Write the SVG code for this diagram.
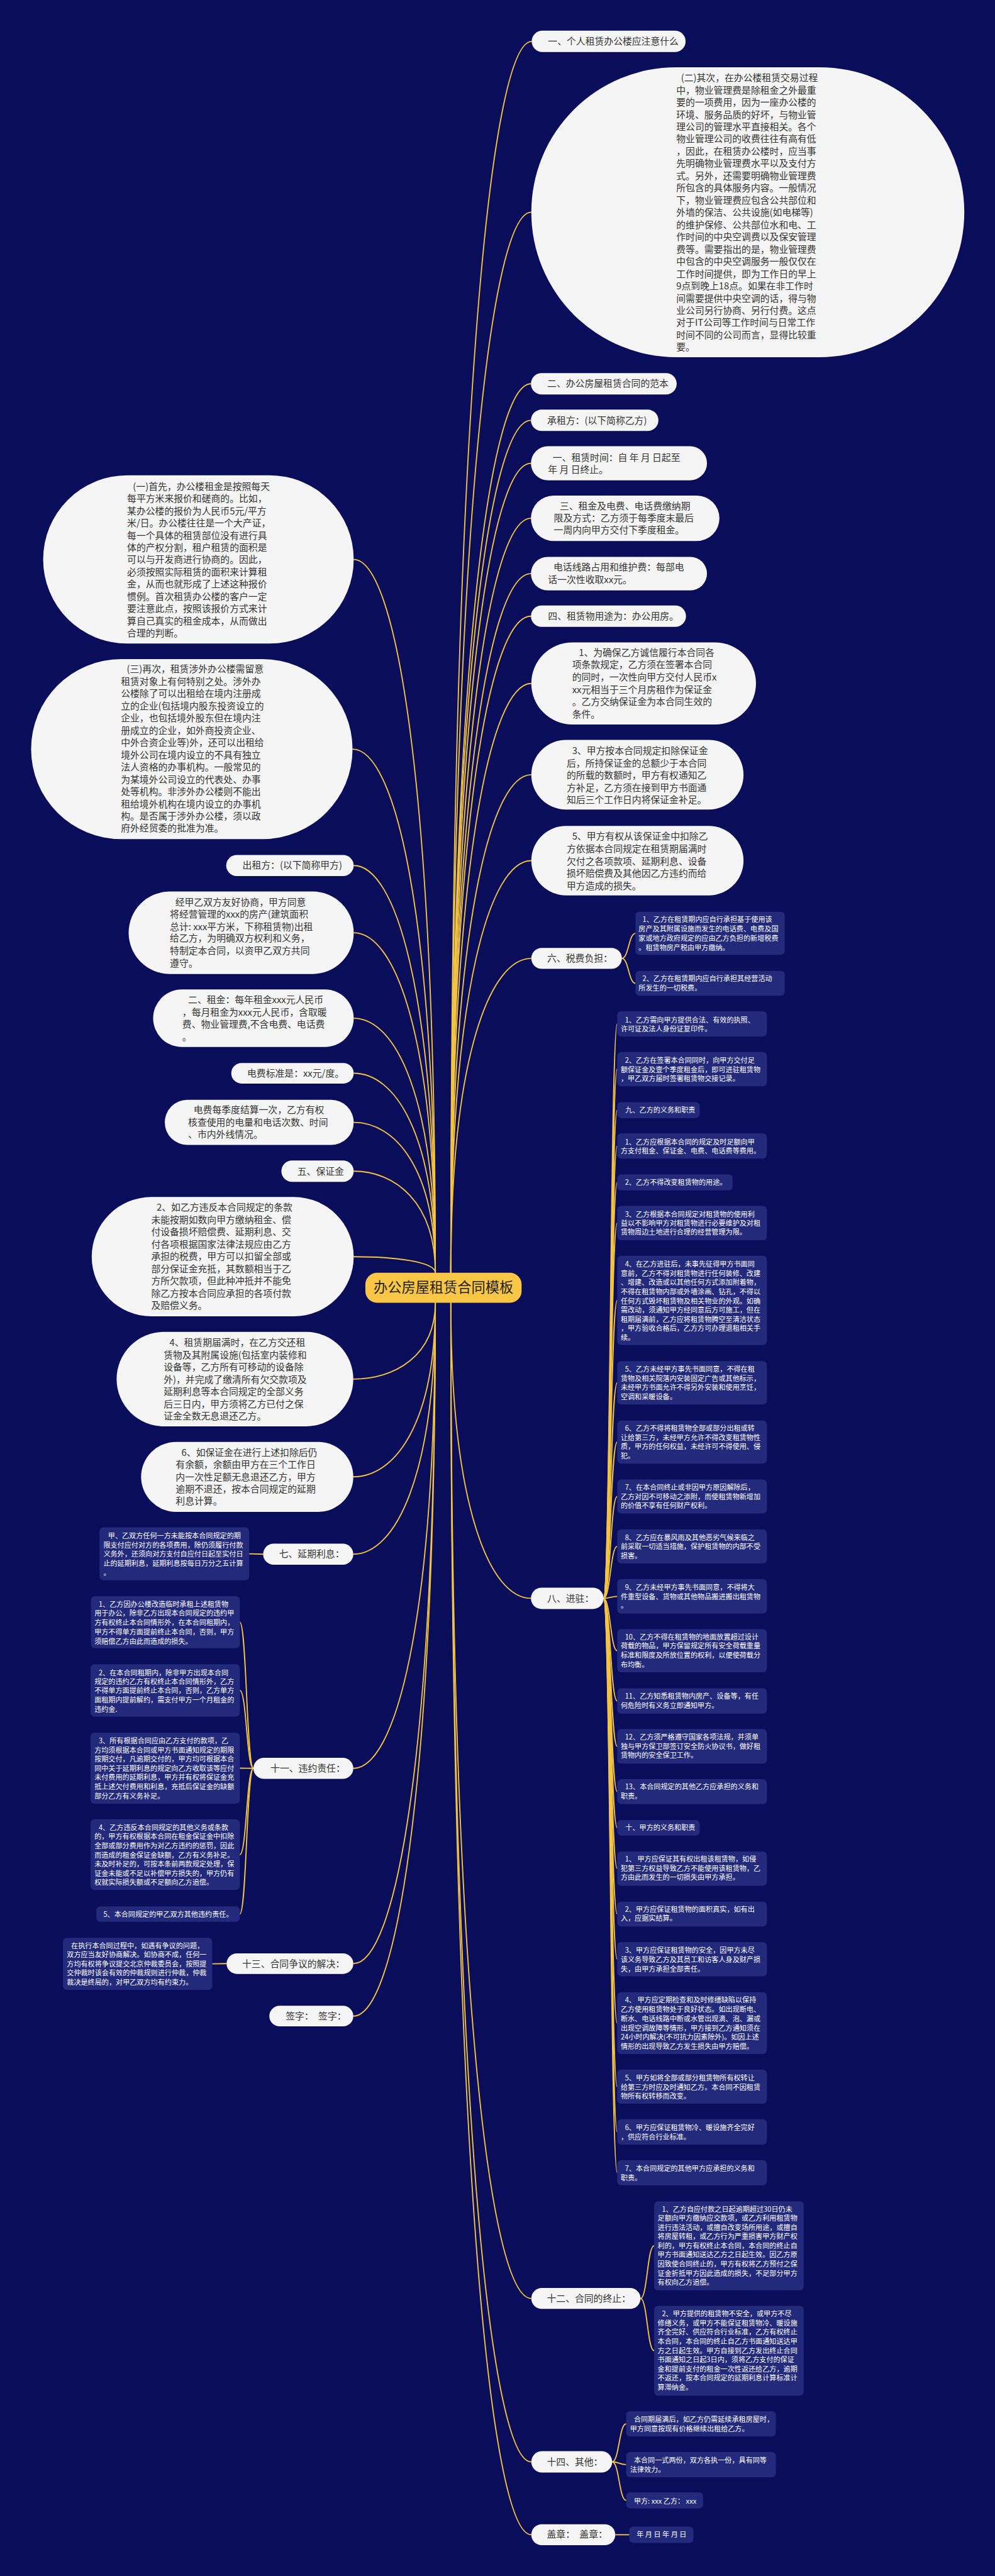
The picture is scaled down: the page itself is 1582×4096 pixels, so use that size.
<svg xmlns="http://www.w3.org/2000/svg" width="1582" height="4096" viewBox="0 0 1582 4096">
<style>
.pill{fill:#f5f5f5}
.box{fill:#232a7c}
.cen{fill:#f9c646}
.t{font-family:"Noto Sans CJK SC","Noto Sans",sans-serif;font-size:24px;fill:#333333}
.w{font-family:"Noto Sans CJK SC","Noto Sans",sans-serif;font-size:18px;fill:#ffffff}
.ct{font-family:"Noto Sans CJK SC","Noto Sans",sans-serif;font-size:36px;fill:#1f1f1f}
.c{fill:none;stroke:#f4c443;stroke-width:3}
</style>
<rect x="0" y="0" width="1582" height="4096" fill="#0a0e5a"/>
<g transform="scale(0.61797)">
<g id="connectors">
<path class="c" d="M1368 106.5 C1264 106.5 1160 1057 1160 3275"/>
<path class="c" d="M1367 546 C1263.5 546 1160 1365 1160 3275"/>
<path class="c" d="M1366 987.5 C1263 987.5 1160 1674 1160 3275"/>
<path class="c" d="M1366 1081.5 C1263 1081.5 1160 1740 1160 3275"/>
<path class="c" d="M1366 1192 C1263 1192 1160 1817 1160 3275"/>
<path class="c" d="M1366 1333.5 C1263 1333.5 1160 1916 1160 3275"/>
<path class="c" d="M1366 1476 C1263 1476 1160 2016 1160 3275"/>
<path class="c" d="M1366 1585.5 C1263 1585.5 1160 2092 1160 3275"/>
<path class="c" d="M1367 1758.5 C1263.5 1758.5 1160 2213.5 1160 3275"/>
<path class="c" d="M1367 1993.5 C1263.5 1993.5 1160 2378 1160 3275"/>
<path class="c" d="M1367 2214.5 C1263.5 2214.5 1160 2532.5 1160 3275"/>
<path class="c" d="M1367 2466 C1263.5 2466 1160 2709 1160 3275"/>
<path class="c" d="M910 1439.5 C1015 1439.5 1120 1990 1120 3275"/>
<path class="c" d="M907 1927.5 C1013.5 1927.5 1120 2332 1120 3275"/>
<path class="c" d="M910 2227 C1015 2227 1120 2541 1120 3275"/>
<path class="c" d="M910 2400 C1015 2400 1120 2662.5 1120 3275"/>
<path class="c" d="M910 2620 C1015 2620 1120 2816.5 1120 3275"/>
<path class="c" d="M910 2761.5 C1015 2761.5 1120 2915.5 1120 3275"/>
<path class="c" d="M910 2888 C1015 2888 1120 3004 1120 3275"/>
<path class="c" d="M910 3013.5 C1015 3013.5 1120 3092 1120 3275"/>
<path class="c" d="M910 3233.5 C1015 3233.5 1120 3246 1120 3275"/>
<path class="c" d="M909 3548.5 C1014.5 3548.5 1120 3489.5 1120 3352"/>
<path class="c" d="M909 3800 C1014.5 3800 1120 3665.6 1120 3352"/>
<path class="c" d="M909 3999 C1014.5 3999 1120 3805 1120 3352"/>
<path class="c" d="M909 4550 C1014.5 4550 1120 4190.6 1120 3352"/>
<path class="c" d="M909 5052.5 C1014.5 5052.5 1120 4542.5 1120 3352"/>
<path class="c" d="M909 5187.5 C1014.5 5187.5 1120 4636.8 1120 3352"/>
<path class="c" d="M1366 4112.5 C1263 4112.5 1160 3884.5 1160 3352"/>
<path class="c" d="M1367 5914 C1263.5 5914 1160 5145.4 1160 3352"/>
<path class="c" d="M1367 6334.5 C1263.5 6334.5 1160 5439.8 1160 3352"/>
<path class="c" d="M1367 6522 C1263.5 6522 1160 5571 1160 3352"/>
<path class="c" d="M1600 2466 C1617.5 2466 1617.5 2401.5 1635 2401.5"/>
<path class="c" d="M1600 2466 C1617.5 2466 1617.5 2530 1635 2530"/>
<path class="c" d="M1553 4112.5 C1570.5 4112.5 1570.5 2634.5 1588 2634.5"/>
<path class="c" d="M1553 4112.5 C1570.5 4112.5 1570.5 2751 1588 2751"/>
<path class="c" d="M1553 4112.5 C1570.5 4112.5 1570.5 2856.5 1588 2856.5"/>
<path class="c" d="M1553 4112.5 C1570.5 4112.5 1570.5 2948.5 1588 2948.5"/>
<path class="c" d="M1553 4112.5 C1570.5 4112.5 1570.5 3042.5 1588 3042.5"/>
<path class="c" d="M1553 4112.5 C1570.5 4112.5 1570.5 3147 1588 3147"/>
<path class="c" d="M1553 4112.5 C1570.5 4112.5 1570.5 3346 1588 3346"/>
<path class="c" d="M1553 4112.5 C1570.5 4112.5 1570.5 3558 1588 3558"/>
<path class="c" d="M1553 4112.5 C1570.5 4112.5 1570.5 3710.5 1588 3710.5"/>
<path class="c" d="M1553 4112.5 C1570.5 4112.5 1570.5 3850.5 1588 3850.5"/>
<path class="c" d="M1553 4112.5 C1570.5 4112.5 1570.5 3979 1588 3979"/>
<path class="c" d="M1553 4112.5 C1570.5 4112.5 1570.5 4107.5 1588 4107.5"/>
<path class="c" d="M1553 4112.5 C1570.5 4112.5 1570.5 4247.5 1588 4247.5"/>
<path class="c" d="M1553 4112.5 C1570.5 4112.5 1570.5 4376.5 1588 4376.5"/>
<path class="c" d="M1553 4112.5 C1570.5 4112.5 1570.5 4493.5 1588 4493.5"/>
<path class="c" d="M1553 4112.5 C1570.5 4112.5 1570.5 4610 1588 4610"/>
<path class="c" d="M1553 4112.5 C1570.5 4112.5 1570.5 4703 1588 4703"/>
<path class="c" d="M1553 4112.5 C1570.5 4112.5 1570.5 4808 1588 4808"/>
<path class="c" d="M1553 4112.5 C1570.5 4112.5 1570.5 4925 1588 4925"/>
<path class="c" d="M1553 4112.5 C1570.5 4112.5 1570.5 5041 1588 5041"/>
<path class="c" d="M1553 4112.5 C1570.5 4112.5 1570.5 5205.5 1588 5205.5"/>
<path class="c" d="M1553 4112.5 C1570.5 4112.5 1570.5 5369 1588 5369"/>
<path class="c" d="M1553 4112.5 C1570.5 4112.5 1570.5 5485.5 1588 5485.5"/>
<path class="c" d="M1553 4112.5 C1570.5 4112.5 1570.5 5590.5 1588 5590.5"/>
<path class="c" d="M1648 5914 C1665.5 5914 1665.5 5778.5 1683 5778.5"/>
<path class="c" d="M1648 5914 C1665.5 5914 1665.5 6048.5 1683 6048.5"/>
<path class="c" d="M1575 6334.5 C1593 6334.5 1593 6236.5 1611 6236.5"/>
<path class="c" d="M1575 6334.5 C1593 6334.5 1593 6341.5 1611 6341.5"/>
<path class="c" d="M1575 6334.5 C1593 6334.5 1593 6433.5 1611 6433.5"/>
<path class="c" d="M1583 6522 L1619 6522"/>
<path class="c" d="M677 3999 L641 3998"/>
<path class="c" d="M652 4550 C634.5 4550 634.5 4174 617 4174"/>
<path class="c" d="M652 4550 C634.5 4550 634.5 4349.5 617 4349.5"/>
<path class="c" d="M652 4550 C634.5 4550 634.5 4549.5 617 4549.5"/>
<path class="c" d="M652 4550 C634.5 4550 634.5 4772 617 4772"/>
<path class="c" d="M652 4550 C634.5 4550 634.5 4925 617 4925"/>
<path class="c" d="M583 5052.5 L546 5053"/>
</g>

<g id="center">
<rect class="cen" x="940" y="3275" width="402" height="77" rx="30"/>
<text class="ct" x="1141" y="3326" text-anchor="middle">办公房屋租赁合同模板</text>
</g>

<g id="r1"><rect class="pill" x="1368" y="79" width="396" height="55" rx="27.5"/>
<text class="t" x="1410" y="115">一、个人租赁办公楼应注意什么</text></g>

<g id="r2"><rect class="pill" x="1367" y="173" width="1114" height="746" rx="373"/>
<text class="t"><tspan x="1752" y="209">(二)其次，在办公楼租赁交易过程</tspan><tspan x="1740" y="240.5">中，物业管理费是除租金之外最重</tspan><tspan x="1740" y="272">要的一项费用，因为一座办公楼的</tspan><tspan x="1740" y="303.5">环境、服务品质的好坏，与物业管</tspan><tspan x="1740" y="335">理公司的管理水平直接相关。各个</tspan><tspan x="1740" y="366.5">物业管理公司的收费往往有高有低</tspan><tspan x="1740" y="398">，因此，在租赁办公楼时，应当事</tspan><tspan x="1740" y="429.5">先明确物业管理费水平以及支付方</tspan><tspan x="1740" y="461">式。另外，还需要明确物业管理费</tspan><tspan x="1740" y="492.5">所包含的具体服务内容。一般情况</tspan><tspan x="1740" y="524">下，物业管理费应包含公共部位和</tspan><tspan x="1740" y="555.5">外墙的保洁、公共设施(如电梯等)</tspan><tspan x="1740" y="587">的维护保修、公共部位水和电、工</tspan><tspan x="1740" y="618.5">作时间的中央空调费以及保安管理</tspan><tspan x="1740" y="650">费等。需要指出的是，物业管理费</tspan><tspan x="1740" y="681.5">中包含的中央空调服务一般仅仅在</tspan><tspan x="1740" y="713">工作时间提供，即为工作日的早上</tspan><tspan x="1740" y="744.5">9点到晚上18点。如果在非工作时</tspan><tspan x="1740" y="776">间需要提供中央空调的话，得与物</tspan><tspan x="1740" y="807.5">业公司另行协商、另行付费。这点</tspan><tspan x="1740" y="839">对于IT公司等工作时间与日常工作</tspan><tspan x="1740" y="870.5">时间不同的公司而言，显得比较重</tspan><tspan x="1740" y="902">要。</tspan></text></g>

<g id="r3"><rect class="pill" x="1366" y="960" width="375" height="55" rx="27.5"/>
<text class="t" x="1408" y="996">二、办公房屋租赁合同的范本</text></g>

<g id="r4"><rect class="pill" x="1366" y="1054" width="328" height="55" rx="27.5"/>
<text class="t" x="1408" y="1090">承租方：(以下简称乙方)</text></g>

<g id="r5"><rect class="pill" x="1366" y="1148" width="453" height="88" rx="44"/>
<text class="t"><tspan x="1422" y="1186">一、租赁时间：自 年 月 日起至</tspan><tspan x="1410" y="1217">年 月 日终止。</tspan></text></g>

<g id="r6"><rect class="pill" x="1366" y="1275" width="485" height="117" rx="58.5"/>
<text class="t"><tspan x="1440" y="1311">三、租金及电费、电话费缴纳期</tspan><tspan x="1425" y="1342">限及方式：乙方须于每季度末最后</tspan><tspan x="1425" y="1373">一周内向甲方交付下季度租金。</tspan></text></g>

<g id="r7"><rect class="pill" x="1366" y="1433" width="453" height="86" rx="43"/>
<text class="t"><tspan x="1424" y="1467">电话线路占用和维护费：每部电</tspan><tspan x="1410" y="1500">话一次性收取xx元。</tspan></text></g>

<g id="r8"><rect class="pill" x="1366" y="1558" width="399" height="55" rx="27.5"/>
<text class="t" x="1410" y="1594">四、租赁物用途为：办公用房。</text></g>

<g id="r9"><rect class="pill" x="1367" y="1653" width="578" height="211" rx="105.5"/>
<text class="t"><tspan x="1489" y="1687">1、为确保乙方诚信履行本合同各</tspan><tspan x="1472" y="1719">项条款规定，乙方须在签署本合同</tspan><tspan x="1472" y="1751">的同时，一次性向甲方交付人民币x</tspan><tspan x="1472" y="1783">xx元相当于三个月房租作为保证金</tspan><tspan x="1472" y="1814">。乙方交纳保证金为本合同生效的</tspan><tspan x="1472" y="1846">条件。</tspan></text></g>

<g id="r10"><rect class="pill" x="1367" y="1904" width="546" height="179" rx="89.5"/>
<text class="t"><tspan x="1472" y="1940">3、甲方按本合同规定扣除保证金</tspan><tspan x="1458" y="1972">后，所持保证金的总额少于本合同</tspan><tspan x="1458" y="2004">的所载的数额时，甲方有权通知乙</tspan><tspan x="1458" y="2035">方补足，乙方须在接到甲方书面通</tspan><tspan x="1458" y="2067">知后三个工作日内将保证金补足。</tspan></text></g>

<g id="r11"><rect class="pill" x="1367" y="2125" width="546" height="179" rx="89.5"/>
<text class="t"><tspan x="1472" y="2161">5、甲方有权从该保证金中扣除乙</tspan><tspan x="1458" y="2193">方依据本合同规定在租赁期届满时</tspan><tspan x="1458" y="2225">欠付之各项款项、延期利息、设备</tspan><tspan x="1458" y="2256">损坏赔偿费及其他因乙方违约而给</tspan><tspan x="1458" y="2288">甲方造成的损失。</tspan></text></g>

<g id="r12"><rect class="pill" x="1367" y="2439" width="233" height="54" rx="27"/>
<text class="t" x="1408" y="2474">六、税费负担：</text></g>
<g id="r12a"><rect class="box" x="1635" y="2346" width="384" height="111" rx="10"/>
<text class="w"><tspan x="1653" y="2372.5">1、乙方在租赁期内应自行承担基于使用该</tspan><tspan x="1643" y="2396.5">房产及其附属设施而发生的电话费、电费及国</tspan><tspan x="1643" y="2420.5">家或地方政府规定的应由乙方负担的新增税费</tspan><tspan x="1643" y="2444.5">。租赁物房产税由甲方缴纳。</tspan></text></g>
<g id="r12b"><rect class="box" x="1635" y="2498" width="384" height="64" rx="10"/>
<text class="w"><tspan x="1653" y="2524.5">2、乙方在租赁期内应自行承担其经营活动</tspan><tspan x="1643" y="2548.5">所发生的一切税费。</tspan></text></g>

<g id="r13"><rect class="pill" x="1366" y="4085" width="187" height="55" rx="27.5"/>
<text class="t" x="1408" y="4121">八、进驻：</text></g>

<g id="r13-1"><rect class="box" x="1588" y="2602" width="385" height="65" rx="10"/>
<text class="w"><tspan x="1608" y="2630.5">1、乙方需向甲方提供合法、有效的执照、</tspan><tspan x="1597" y="2653.5">许可证及法人身份证复印件。</tspan></text></g>
<g id="r13-2"><rect class="box" x="1588" y="2707" width="385" height="88" rx="10"/>
<text class="w"><tspan x="1608" y="2735.5">2、乙方在签署本合同同时，向甲方交付足</tspan><tspan x="1597" y="2758.5">额保证金及壹个季度租金后，即可进驻租赁物</tspan><tspan x="1597" y="2781.5">，甲乙双方届时签署租赁物交接记录。</tspan></text></g>
<g id="r13-3"><rect class="box" x="1588" y="2836" width="212" height="41" rx="10"/>
<text class="w" x="1609" y="2862.5">九、乙方的义务和职责</text></g>
<g id="r13-4"><rect class="box" x="1588" y="2916" width="385" height="65" rx="10"/>
<text class="w"><tspan x="1608" y="2945.5">1、乙方应根据本合同的规定及时足额向甲</tspan><tspan x="1597" y="2967.5">方支付租金、保证金、电费、电话费等费用。</tspan></text></g>
<g id="r13-5"><rect class="box" x="1588" y="3022" width="297" height="41" rx="10"/>
<text class="w" x="1608" y="3048.5">2、乙方不得改变租赁物的用途。</text></g>
<g id="r13-6"><rect class="box" x="1588" y="3103" width="385" height="88" rx="10"/>
<text class="w"><tspan x="1608" y="3130.5">3、乙方根据本合同规定对租赁物的使用利</tspan><tspan x="1597" y="3153.5">益以不影响甲方对租赁物进行必要维护及对租</tspan><tspan x="1597" y="3176.5">赁物周边土地进行合理的经营管理为限。</tspan></text></g>
<g id="r13-7"><rect class="box" x="1588" y="3231" width="385" height="230" rx="10"/>
<text class="w"><tspan x="1608" y="3259.5">4、在乙方进驻后，未事先征得甲方书面同</tspan><tspan x="1597" y="3283">意前，乙方不得对租赁物进行任何装修、改建</tspan><tspan x="1597" y="3306.5">、增建、改造或以其他任何方式添加附着物，</tspan><tspan x="1597" y="3330">不得在租赁物内部或外墙涂画、钻孔，不得以</tspan><tspan x="1597" y="3354">任何方式毁坏租赁物及相关物业的外观。如确</tspan><tspan x="1597" y="3377.5">需改动，须通知甲方经同意后方可施工，但在</tspan><tspan x="1597" y="3401">租期届满前，乙方应将租赁物腾空至清洁状态</tspan><tspan x="1597" y="3424.5">，甲方验收合格后，乙方方可办理退租相关手</tspan><tspan x="1597" y="3448.5">续。</tspan></text></g>
<g id="r13-8"><rect class="box" x="1588" y="3502" width="385" height="112" rx="10"/>
<text class="w"><tspan x="1608" y="3529.5">5、乙方未经甲方事先书面同意，不得在租</tspan><tspan x="1597" y="3553">赁物及相关院落内安装固定广告或其他标示，</tspan><tspan x="1597" y="3576.5">未经甲方书面允许不得另外安装和使用烹饪，</tspan><tspan x="1597" y="3600">空调和采暖设备。</tspan></text></g>
<g id="r13-9"><rect class="box" x="1588" y="3655" width="385" height="111" rx="10"/>
<text class="w"><tspan x="1608" y="3681.5">6、乙方不得将租赁物全部或部分出租或转</tspan><tspan x="1597" y="3705">让给第三方，未经甲方允许不得改变租赁物性</tspan><tspan x="1597" y="3728.5">质，甲方的任何权益，未经许可不得使用、侵</tspan><tspan x="1597" y="3752">犯。</tspan></text></g>
<g id="r13-10"><rect class="box" x="1588" y="3807" width="385" height="87" rx="10"/>
<text class="w"><tspan x="1608" y="3833.5">7、在本合同终止或非因甲方原因解除后，</tspan><tspan x="1597" y="3857">乙方对因不可移动之添附，而使租赁物新增加</tspan><tspan x="1597" y="3880.5">的价值不享有任何财产权利。</tspan></text></g>
<g id="r13-11"><rect class="box" x="1588" y="3935" width="385" height="88" rx="10"/>
<text class="w"><tspan x="1608" y="3962.5">8、乙方应在暴风雨及其他恶劣气候来临之</tspan><tspan x="1597" y="3986">前采取一切适当措施，保护租赁物的内部不受</tspan><tspan x="1597" y="4009.5">损害。</tspan></text></g>
<g id="r13-12"><rect class="box" x="1588" y="4063" width="385" height="89" rx="10"/>
<text class="w"><tspan x="1608" y="4091.5">9、乙方未经甲方事先书面同意，不得将大</tspan><tspan x="1597" y="4115">件重型设备、货物或其他物品搬进搬出租赁物</tspan><tspan x="1597" y="4138.5">。</tspan></text></g>
<g id="r13-13"><rect class="box" x="1588" y="4192" width="385" height="111" rx="10"/>
<text class="w"><tspan x="1608" y="4218.5">10、乙方不得在租赁物的地面放置超过设计</tspan><tspan x="1597" y="4242">荷载的物品，甲方保留规定所有安全荷载重量</tspan><tspan x="1597" y="4265.5">标准和限度及所放位置的权利，以便使荷载分</tspan><tspan x="1597" y="4289.5">布均衡。</tspan></text></g>
<g id="r13-14"><rect class="box" x="1588" y="4344" width="385" height="65" rx="10"/>
<text class="w"><tspan x="1608" y="4371.5">11、乙方知悉租赁物内房产、设备等，有任</tspan><tspan x="1597" y="4394.5">何危险时有义务立即通知甲方。</tspan></text></g>
<g id="r13-15"><rect class="box" x="1588" y="4449" width="385" height="89" rx="10"/>
<text class="w"><tspan x="1608" y="4476.5">12、乙方须严格遵守国家各项法规，并须单</tspan><tspan x="1597" y="4500">独与甲方保卫部签订安全防火协议书，做好租</tspan><tspan x="1597" y="4523.5">赁物内的安全保卫工作。</tspan></text></g>
<g id="r13-16"><rect class="box" x="1588" y="4578" width="385" height="64" rx="10"/>
<text class="w"><tspan x="1608" y="4604.5">13、本合同规定的其他乙方应承担的义务和</tspan><tspan x="1597" y="4628">职责。</tspan></text></g>
<g id="r13-17"><rect class="box" x="1588" y="4683" width="212" height="40" rx="10"/>
<text class="w" x="1609" y="4709.5">十、甲方的义务和职责</text></g>
<g id="r13-18"><rect class="box" x="1588" y="4764" width="385" height="88" rx="10"/>
<text class="w"><tspan x="1608" y="4790.5">1、 甲方应保证其有权出租该租赁物，如侵</tspan><tspan x="1597" y="4814">犯第三方权益导致乙方不能使用该租赁物，乙</tspan><tspan x="1597" y="4837.5">方由此而发生的一切损失由甲方承担。</tspan></text></g>
<g id="r13-19"><rect class="box" x="1588" y="4893" width="385" height="64" rx="10"/>
<text class="w"><tspan x="1608" y="4919.5">2、甲方应保证租赁物的面积真实，如有出</tspan><tspan x="1597" y="4942.5">入，应据实结算。</tspan></text></g>
<g id="r13-20"><rect class="box" x="1588" y="4997" width="385" height="88" rx="10"/>
<text class="w"><tspan x="1608" y="5024.5">3、甲方应保证租赁物的安全，因甲方未尽</tspan><tspan x="1597" y="5048.5">该义务导致乙方及其员工和访客人身及财产损</tspan><tspan x="1597" y="5072.5">失，由甲方承担全部责任。</tspan></text></g>
<g id="r13-21"><rect class="box" x="1588" y="5126" width="385" height="159" rx="10"/>
<text class="w"><tspan x="1608" y="5152.5">4、 甲方应定期检查和及时修缮缺陷以保持</tspan><tspan x="1597" y="5176.5">乙方使用租赁物处于良好状态。如出现断电、</tspan><tspan x="1597" y="5200.5">断水、电话线路中断或水管出现滴、泡、漏或</tspan><tspan x="1597" y="5224.5">出现空调故障等情形，甲方接到乙方通知须在</tspan><tspan x="1597" y="5248.5">24小时内解决(不可抗力因素除外)。如因上述</tspan><tspan x="1597" y="5272.5">情形的出现导致乙方发生损失由甲方赔偿。</tspan></text></g>
<g id="r13-22"><rect class="box" x="1588" y="5325" width="385" height="88" rx="10"/>
<text class="w"><tspan x="1608" y="5352.5">5、甲方如将全部或部分租赁物所有权转让</tspan><tspan x="1597" y="5376.5">给第三方时应及时通知乙方。本合同不因租赁</tspan><tspan x="1597" y="5400.5">物所有权转移而改变。</tspan></text></g>
<g id="r13-23"><rect class="box" x="1588" y="5453" width="385" height="65" rx="10"/>
<text class="w"><tspan x="1608" y="5481.5">6、甲方应保证租赁物冷、暖设施齐全完好</tspan><tspan x="1597" y="5505.5">，供应符合行业标准。</tspan></text></g>
<g id="r13-24"><rect class="box" x="1588" y="5558" width="385" height="65" rx="10"/>
<text class="w"><tspan x="1608" y="5586.5">7、本合同规定的其他甲方应承担的义务和</tspan><tspan x="1597" y="5610.5">职责。</tspan></text></g>

<g id="r14"><rect class="pill" x="1367" y="5887" width="281" height="54" rx="27"/>
<text class="t" x="1407" y="5922">十二、合同的终止：</text></g>
<g id="r14a"><rect class="box" x="1683" y="5664" width="385" height="229" rx="10"/>
<text class="w"><tspan x="1703" y="5690.5">1、乙方自应付款之日起逾期超过30日仍未</tspan><tspan x="1692" y="5714">足额向甲方缴纳应交款项，或乙方利用租赁物</tspan><tspan x="1692" y="5737.5">进行违法活动，或擅自改变场所用途，或擅自</tspan><tspan x="1692" y="5761.5">将房屋转租，或乙方行为严重损害甲方财产权</tspan><tspan x="1692" y="5785">利的，甲方有权终止本合同，本合同的终止自</tspan><tspan x="1692" y="5808.5">甲方书面通知送达乙方之日起生效。因乙方原</tspan><tspan x="1692" y="5832">因致使合同终止的，甲方有权将乙方预付之保</tspan><tspan x="1692" y="5855.5">证金折抵甲方因此造成的损失，不足部分甲方</tspan><tspan x="1692" y="5879.5">有权向乙方追偿。</tspan></text></g>
<g id="r14b"><rect class="box" x="1683" y="5933" width="385" height="231" rx="10"/>
<text class="w"><tspan x="1703" y="5960.5">2、甲方提供的租赁物不安全，或甲方不尽</tspan><tspan x="1692" y="5984">修缮义务，或甲方不能保证租赁物冷、暖设施</tspan><tspan x="1692" y="6007.5">齐全完好、供应符合行业标准，乙方有权终止</tspan><tspan x="1692" y="6031.5">本合同，本合同的终止自乙方书面通知送达甲</tspan><tspan x="1692" y="6055">方之日起生效。甲方自接到乙方发出终止合同</tspan><tspan x="1692" y="6078.5">书面通知之日起3日内，须将乙方支付的保证</tspan><tspan x="1692" y="6102">金和提前支付的租金一次性返还给乙方，逾期</tspan><tspan x="1692" y="6125.5">不返还，按本合同规定的延期利息计算标准计</tspan><tspan x="1692" y="6149.5">算滞纳金。</tspan></text></g>

<g id="r15"><rect class="pill" x="1367" y="6307" width="208" height="55" rx="27.5"/>
<text class="t" x="1407" y="6343">十四、其他：</text></g>
<g id="r15a"><rect class="box" x="1611" y="6204" width="385" height="65" rx="10"/>
<text class="w"><tspan x="1631" y="6231.5">合同期届满后，如乙方仍需延续承租房屋时，</tspan><tspan x="1621" y="6255.5">甲方同意按现有价格继续出租给乙方。</tspan></text></g>
<g id="r15b"><rect class="box" x="1611" y="6309" width="385" height="65" rx="10"/>
<text class="w"><tspan x="1631" y="6336.5">本合同一式两份，双方各执一份，具有同等</tspan><tspan x="1621" y="6360.5">法律效力。</tspan></text></g>
<g id="r15c"><rect class="box" x="1611" y="6413" width="198" height="41" rx="10"/>
<text class="w" x="1631" y="6441.5">甲方: xxx 乙方： xxx</text></g>

<g id="r16"><rect class="pill" x="1367" y="6495" width="216" height="54" rx="27"/>
<text class="t" x="1407" y="6530">盖章：　盖章：</text></g>
<g id="r16a"><rect class="box" x="1619" y="6501" width="165" height="42" rx="10"/>
<text class="w" x="1638" y="6528.5">年 月 日 年 月 日</text></g>

<g id="l1"><rect class="pill" x="111" y="1223" width="799" height="433" rx="216.5"/>
<text class="t"><tspan x="342" y="1260">(一)首先，办公楼租金是按照每天</tspan><tspan x="327" y="1291.5">每平方米来报价和磋商的。比如，</tspan><tspan x="327" y="1323">某办公楼的报价为人民币5元/平方</tspan><tspan x="327" y="1354.5">米/日。办公楼往往是一个大产证，</tspan><tspan x="327" y="1386">每一个具体的租赁部位没有进行具</tspan><tspan x="327" y="1417.5">体的产权分割，租户租赁的面积是</tspan><tspan x="327" y="1449">可以与开发商进行协商的。因此，</tspan><tspan x="327" y="1480.5">必须按照实际租赁的面积来计算租</tspan><tspan x="327" y="1512">金，从而也就形成了上述这种报价</tspan><tspan x="327" y="1543.5">惯例。首次租赁办公楼的客户一定</tspan><tspan x="327" y="1575">要注意此点，按照该报价方式来计</tspan><tspan x="327" y="1606.5">算自己真实的租金成本，从而做出</tspan><tspan x="327" y="1638">合理的判断。</tspan></text></g>

<g id="l2"><rect class="pill" x="80" y="1696" width="827" height="463" rx="231.5"/>
<text class="t"><tspan x="326" y="1730.5">(三)再次，租赁涉外办公楼需留意</tspan><tspan x="311" y="1762">租赁对象上有何特别之处。涉外办</tspan><tspan x="311" y="1793.5">公楼除了可以出租给在境内注册成</tspan><tspan x="311" y="1825">立的企业(包括境内股东投资设立的</tspan><tspan x="311" y="1856.5">企业，也包括境外股东但在境内注</tspan><tspan x="311" y="1888">册成立的企业，如外商投资企业、</tspan><tspan x="311" y="1919.5">中外合资企业等)外，还可以出租给</tspan><tspan x="311" y="1951">境外公司在境内设立的不具有独立</tspan><tspan x="311" y="1982.5">法人资格的办事机构。一般常见的</tspan><tspan x="311" y="2014">为某境外公司设立的代表处、办事</tspan><tspan x="311" y="2045.5">处等机构。非涉外办公楼则不能出</tspan><tspan x="311" y="2077">租给境外机构在境内设立的办事机</tspan><tspan x="311" y="2108.5">构。是否属于涉外办公楼，须以政</tspan><tspan x="311" y="2140">府外经贸委的批准为准。</tspan></text></g>

<g id="l3"><rect class="pill" x="582" y="2200" width="328" height="54" rx="27"/>
<text class="t" x="624" y="2235">出租方：(以下简称甲方)</text></g>

<g id="l4"><rect class="pill" x="331" y="2294" width="579" height="212" rx="106"/>
<text class="t"><tspan x="451" y="2330">经甲乙双方友好协商，甲方同意</tspan><tspan x="437" y="2361">将经营管理的xxx的房产(建筑面积</tspan><tspan x="437" y="2393">总计: xxx平方米，下称租赁物)出租</tspan><tspan x="437" y="2423">给乙方，为明确双方权利和义务，</tspan><tspan x="437" y="2455">特制定本合同，以资甲乙双方共同</tspan><tspan x="437" y="2487">遵守。</tspan></text></g>

<g id="l5"><rect class="pill" x="394" y="2546" width="516" height="148" rx="74"/>
<text class="t"><tspan x="484" y="2581">二、租金：每年租金xxx元人民币</tspan><tspan x="469" y="2613">，每月租金为xxx元人民币，含取暖</tspan><tspan x="469" y="2644">费、物业管理费,不含电费、电话费</tspan><tspan x="469" y="2676">。</tspan></text></g>

<g id="l6"><rect class="pill" x="595" y="2735" width="315" height="53" rx="26.5"/>
<text class="t" x="636" y="2770">电费标准是：xx元/度。</text></g>

<g id="l7"><rect class="pill" x="424" y="2830" width="486" height="116" rx="58"/>
<text class="t"><tspan x="498" y="2864">电费每季度结算一次，乙方有权</tspan><tspan x="484" y="2896">核查使用的电量和电话次数、时间</tspan><tspan x="484" y="2928">、市内外线情况。</tspan></text></g>

<g id="l8"><rect class="pill" x="724" y="2986" width="186" height="55" rx="27.5"/>
<text class="t" x="765" y="3022">五、保证金</text></g>

<g id="l9"><rect class="pill" x="236" y="3080" width="674" height="307" rx="153.5"/>
<text class="t"><tspan x="403" y="3115.5">2、如乙方违反本合同规定的条款</tspan><tspan x="389" y="3147">未能按期如数向甲方缴纳租金、偿</tspan><tspan x="389" y="3178.5">付设备损坏赔偿费、延期利息、交</tspan><tspan x="389" y="3210">付各项根据国家法律法规应由乙方</tspan><tspan x="389" y="3241.5">承担的税费，甲方可以扣留全部或</tspan><tspan x="389" y="3273">部分保证金充抵，其数额相当于乙</tspan><tspan x="389" y="3304.5">方所欠款项，但此种冲抵并不能免</tspan><tspan x="389" y="3336">除乙方按本合同应承担的各项付款</tspan><tspan x="389" y="3367.5">及赔偿义务。</tspan></text></g>

<g id="l10"><rect class="pill" x="300" y="3427" width="609" height="243" rx="121.5"/>
<text class="t"><tspan x="436" y="3463.5">4、租赁期届满时，在乙方交还租</tspan><tspan x="421" y="3495">赁物及其附属设施(包括室内装修和</tspan><tspan x="421" y="3526.5">设备等，乙方所有可移动的设备除</tspan><tspan x="421" y="3558">外)，并完成了缴清所有欠交款项及</tspan><tspan x="421" y="3589.5">延期利息等本合同规定的全部义务</tspan><tspan x="421" y="3621">后三日内，甲方须将乙方已付之保</tspan><tspan x="421" y="3652.5">证金全数无息退还乙方。</tspan></text></g>

<g id="l11"><rect class="pill" x="363" y="3710" width="546" height="180" rx="90"/>
<text class="t"><tspan x="467" y="3745.5">6、如保证金在进行上述扣除后仍</tspan><tspan x="452" y="3777">有余额，余额由甲方在三个工作日</tspan><tspan x="452" y="3808.5">内一次性足额无息退还乙方，甲方</tspan><tspan x="452" y="3840">逾期不退还，按本合同规定的延期</tspan><tspan x="452" y="3871.5">利息计算。</tspan></text></g>

<g id="l12"><rect class="pill" x="677" y="3972" width="232" height="54" rx="27"/>
<text class="t" x="718" y="4007">七、延期利息：</text></g>
<g id="l12a"><rect class="box" x="256" y="3930" width="385" height="136" rx="10"/>
<text class="w"><tspan x="278" y="3958.5">甲、乙双方任何一方未能按本合同规定的期</tspan><tspan x="266" y="3982.5">限支付应付对方的各项费用，除仍须履行付款</tspan><tspan x="266" y="4005.5">义务外，还须向对方支付自应付日起至实付日</tspan><tspan x="266" y="4029.5">止的延期利息，延期利息按每日万分之五计算</tspan><tspan x="266" y="4053.5">。</tspan></text></g>

<g id="l13"><rect class="pill" x="652" y="4523" width="257" height="54" rx="27"/>
<text class="t" x="696" y="4558">十一、违约责任：</text></g>
<g id="l13a"><rect class="box" x="234" y="4107" width="383" height="134" rx="10"/>
<text class="w"><tspan x="254" y="4134.5">1、乙方因办公楼改造临时承租上述租赁物</tspan><tspan x="243" y="4157.5">用于办公，除非乙方出现本合同规定的违约甲</tspan><tspan x="243" y="4181.5">方有权终止本合同情形外，在本合同租期内，</tspan><tspan x="243" y="4205.5">甲方不得单方面提前终止本合同，否则，甲方</tspan><tspan x="243" y="4229.5">须赔偿乙方由此而造成的损失。</tspan></text></g>
<g id="l13b"><rect class="box" x="233" y="4282" width="384" height="135" rx="10"/>
<text class="w"><tspan x="254" y="4310.5">2、在本合同租期内，除非甲方出现本合同</tspan><tspan x="243" y="4333.5">规定的违约乙方有权终止本合同情形外，乙方</tspan><tspan x="243" y="4356.5">不得单方面提前终止本合同，否则，乙方单方</tspan><tspan x="243" y="4380.5">面租期内提前解约，需支付甲方一个月租金的</tspan><tspan x="243" y="4404.5">违约金.</tspan></text></g>
<g id="l13c"><rect class="box" x="233" y="4458" width="384" height="183" rx="10"/>
<text class="w"><tspan x="254" y="4485.5">3、所有根据合同应由乙方支付的款项，乙</tspan><tspan x="243" y="4509.5">方均须根据本合同或甲方书面通知规定的期限</tspan><tspan x="243" y="4532.5">按期交付，凡逾期交付的，甲方均可根据本合</tspan><tspan x="243" y="4556.5">同中关于延期利息的规定向乙方收取该等应付</tspan><tspan x="243" y="4579.5">未付费用的延期利息，甲方并有权将保证金充</tspan><tspan x="243" y="4603.5">抵上述欠付费用和利息，充抵后保证金的缺额</tspan><tspan x="243" y="4627.5">部分乙方有义务补足。</tspan></text></g>
<g id="l13d"><rect class="box" x="233" y="4681" width="384" height="182" rx="10"/>
<text class="w"><tspan x="254" y="4708.5">4、乙方违反本合同规定的其他义务或条款</tspan><tspan x="243" y="4731.5">的，甲方有权根据本合同在租金保证金中扣除</tspan><tspan x="243" y="4755.5">全部或部分费用作为对乙方违约的惩罚，因此</tspan><tspan x="243" y="4779.5">而造成的租金保证金缺额，乙方有义务补足。</tspan><tspan x="243" y="4803.5">未及时补足的，可按本条前两款规定处理，保</tspan><tspan x="243" y="4826.5">证金未能或不足以补偿甲方损失的，甲方仍有</tspan><tspan x="243" y="4849.5">权就实际损失额或不足额向乙方追偿。</tspan></text></g>
<g id="l13e"><rect class="box" x="248" y="4905" width="369" height="40" rx="10"/>
<text class="w" x="266" y="4931.5">5、本合同规定的甲乙双方其他违约责任。</text></g>

<g id="l14"><rect class="pill" x="583" y="5026" width="326" height="53" rx="26.5"/>
<text class="t" x="623" y="5061">十三、合同争议的解决：</text></g>
<g id="l14a"><rect class="box" x="162" y="4986" width="384" height="134" rx="10"/>
<text class="w"><tspan x="183" y="5013.5">在执行本合同过程中，如遇有争议的问题，</tspan><tspan x="172" y="5036.5">双方应当友好协商解决。如协商不成，任何一</tspan><tspan x="172" y="5060.5">方均有权将争议提交北京仲裁委员会，按照提</tspan><tspan x="172" y="5083.5">交仲裁时该会有效的仲裁规则进行仲裁，仲裁</tspan><tspan x="172" y="5106.5">裁决是终局的，对甲乙双方均有约束力。</tspan></text></g>

<g id="l15"><rect class="pill" x="693" y="5161" width="216" height="53" rx="26.5"/>
<text class="t" x="735" y="5196">签字：　签字：</text></g>
</g>
</svg>
